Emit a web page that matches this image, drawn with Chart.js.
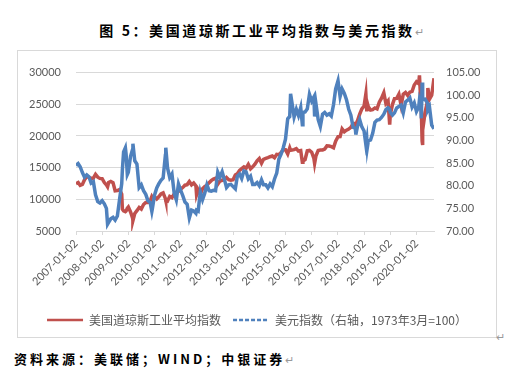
<!DOCTYPE html>
<html>
<head>
<meta charset="utf-8">
<script src="https://cdn.jsdelivr.net/npm/chart.js@4.4.1/dist/chart.umd.min.js"></script>
<style>
  body { margin: 0; background: #fff; width: 523px; height: 384px; position: relative; overflow: hidden;
         font-family: "Noto Sans CJK SC", sans-serif; }
  #title { position: absolute; left: 0; top: 20px; width: 523px; text-align: center; font-size: 14px;
           font-weight: bold; letter-spacing: 2.6px; line-height: 20px; color: #000; }
  #box { position: absolute; left: 17px; top: 50px; width: 478px; height: 286px; border: 1px solid #d9d9d9; }
  #src { position: absolute; left: 14px; top: 350px; font-size: 13px; font-weight: bold; letter-spacing: 3px;
         line-height: 18px; color: #000; }
  .mark { color: #999; font-weight: normal; letter-spacing: 0; font-size: 11px; }
  #boxmark { position: absolute; left: 496px; top: 328px; }
</style>
</head>
<body>
<div id="title">图 5：美国道琼斯工业平均指数与美元指数<span class="mark">↵</span></div>
<div id="box"><canvas id="chart" width="478" height="286"></canvas></div>
<span id="boxmark" class="mark">↵</span>
<div id="src">资料来源：美联储；WIND；中银证券<span class="mark">↵</span></div>
<script>
// 日期（月度 + 若干极值点）
const dates = [
  '2007-01-02','2007-02-01','2007-03-01','2007-04-01','2007-05-01','2007-06-01','2007-07-01','2007-08-01','2007-09-01','2007-10-01','2007-11-01','2007-12-01',
  '2008-01-01','2008-02-01','2008-03-01','2008-03-17','2008-04-01','2008-05-01','2008-06-01','2008-07-01','2008-08-01','2008-09-01','2008-10-01','2008-10-10','2008-10-27','2008-11-21','2008-12-01','2008-12-18',
  '2009-01-01','2009-02-01','2009-03-01','2009-03-06','2009-04-01','2009-05-01','2009-06-01','2009-07-01','2009-08-01','2009-09-01','2009-10-01','2009-11-01','2009-11-25','2009-12-01',
  '2010-01-01','2010-02-01','2010-03-01','2010-04-01','2010-05-01','2010-06-01','2010-06-07','2010-07-01','2010-08-01','2010-09-01','2010-10-01','2010-11-01','2010-12-01',
  '2011-01-01','2011-02-01','2011-03-01','2011-04-01','2011-05-01','2011-06-01','2011-07-01','2011-08-01','2011-08-10','2011-09-01','2011-10-01','2011-11-01','2011-12-01',
  '2012-01-01','2012-02-01','2012-03-01','2012-04-01','2012-05-01','2012-06-01','2012-07-01','2012-08-01','2012-09-01','2012-10-01','2012-11-01','2012-12-01',
  '2013-01-01','2013-02-01','2013-03-01','2013-04-01','2013-05-01','2013-06-01','2013-07-01','2013-08-01','2013-09-01','2013-10-01','2013-11-01','2013-12-01',
  '2014-01-01','2014-02-01','2014-03-01','2014-04-01','2014-05-01','2014-06-01','2014-07-01','2014-08-01','2014-09-01','2014-10-01','2014-11-01','2014-12-01',
  '2015-01-01','2015-02-01','2015-03-01','2015-03-13','2015-04-01','2015-05-01','2015-06-01','2015-07-01','2015-08-01','2015-08-24','2015-09-01','2015-10-01','2015-11-01','2015-12-01',
  '2016-01-01','2016-02-01','2016-02-11','2016-03-01','2016-04-01','2016-05-01','2016-06-01','2016-07-01','2016-08-01','2016-09-01','2016-10-01','2016-11-01','2016-12-01',
  '2017-01-03','2017-02-01','2017-03-01','2017-04-01','2017-05-01','2017-06-01','2017-07-01','2017-08-01','2017-09-01','2017-09-08','2017-10-01','2017-11-01','2017-12-01',
  '2018-01-01','2018-01-26','2018-02-08','2018-02-15','2018-03-01','2018-04-01','2018-05-01','2018-06-01','2018-07-01','2018-08-01','2018-09-01','2018-10-03','2018-11-01','2018-12-01','2018-12-24',
  '2019-01-01','2019-02-01','2019-03-01','2019-04-01','2019-05-01','2019-06-01','2019-07-01','2019-08-01','2019-09-01','2019-10-01','2019-11-01','2019-12-01',
  '2020-01-01','2020-02-01','2020-02-12','2020-03-01','2020-03-09','2020-03-20','2020-03-23','2020-04-01','2020-05-01','2020-06-01','2020-06-08','2020-07-01','2020-08-01','2020-09-02'
];

// 美国道琼斯工业平均指数（左轴）
const djia = [
  12470, 12650, 12200, 12350, 13100, 13600, 13450, 13300, 13350, 13950, 13500, 13300,
  13260, 12650, 12270, 11970, 12650, 12820, 12640, 11350, 11380, 11540, 10830, 8450, 8180, 8050, 8150, 8600,
  8780, 8000, 7060, 6630, 7760, 8210, 8720, 8450, 9170, 9500, 9510, 9710, 10460, 10350,
  10430, 10070, 10400, 10860, 11010, 10140, 9820, 9730, 10470, 10270, 10830, 11120, 11250,
  11580, 11890, 12230, 12320, 12810, 12290, 12580, 12130, 10720, 11490, 10800, 11660, 12020,
  12220, 12630, 12950, 13210, 13340, 12390, 12880, 13010, 13090, 13440, 13100, 13020,
  13100, 13860, 14050, 14570, 14840, 15120, 14910, 15500, 14810, 15130, 15550, 16090,
  16440, 15700, 16320, 16460, 16580, 16720, 16830, 16560, 17100, 17040, 17390, 17830,
  17820, 17160, 18130, 17750, 17780, 17840, 18010, 17620, 17690, 15870, 16060, 16280, 17660, 17720,
  17430, 16450, 15660, 16870, 17690, 17770, 17790, 17930, 18430, 18400, 18310, 18140, 19190,
  19880, 19890, 21110, 20660, 20910, 21080, 21350, 21960, 21990, 21800, 22410, 23440, 24270,
  24720, 26620, 23860, 25200, 24610, 24100, 24160, 24420, 24270, 25330, 25960, 26830, 25120, 25540, 21790,
  23330, 24990, 25900, 25930, 26590, 24820, 26600, 26860, 26400, 26920, 27050, 28050,
  28540, 28260, 29550, 25410, 23850, 19170, 18590, 20940, 23720, 25380, 27570, 25810, 26430, 29100
];

// 美元指数（右轴，1973年3月=100）
const dxy = [
  84.5, 84.9, 84.2, 82.9, 81.9, 82.4, 82.0, 80.6, 80.9, 78.0, 76.5, 76.2,
  76.7, 76.0, 75.0, 71.5, 71.9, 72.7, 73.0, 72.4, 73.3, 77.0, 80.5, 83.5, 87.5, 88.4, 87.0, 82.5,
  83.0, 86.5, 88.0, 89.3, 85.5, 84.8, 79.6, 80.2, 78.9, 78.1, 76.7, 76.3, 74.3, 74.8,
  77.9, 79.5, 80.4, 81.2, 81.7, 86.7, 88.4, 84.0, 81.8, 82.6, 78.5, 76.9, 80.4,
  79.0, 77.7, 76.4, 75.9, 72.9, 74.6, 74.4, 73.9, 74.6, 74.4, 78.6, 76.9, 78.3,
  80.2, 78.9, 78.8, 79.0, 78.9, 83.0, 81.9, 83.1, 81.4, 79.6, 80.2, 80.3,
  79.8, 79.3, 82.1, 82.6, 81.6, 83.3, 83.1, 81.5, 82.1, 80.3, 80.3, 80.7,
  80.0, 81.3, 80.2, 80.2, 79.5, 80.4, 79.8, 81.5, 82.8, 85.9, 87.0, 88.4,
  90.3, 94.8, 95.3, 100.3, 98.4, 95.2, 96.9, 95.5, 97.3, 93.5, 96.2, 96.3, 97.0, 100.2,
  98.7, 99.6, 95.3, 98.1, 94.6, 93.1, 95.8, 96.2, 95.6, 95.9, 95.4, 97.9, 101.4,
  103.2, 99.7, 101.4, 100.4, 99.0, 96.9, 95.6, 92.9, 92.7, 91.3, 93.1, 94.6, 93.0,
  92.1, 89.1, 90.3, 88.4, 89.9, 90.1, 91.6, 94.0, 94.5, 94.6, 95.1, 95.8, 96.8, 97.2, 96.9,
  96.2, 95.6, 96.1, 97.2, 97.5, 97.8, 96.1, 98.5, 98.9, 99.4, 97.4, 98.3,
  96.4, 97.4, 99.0, 98.1, 94.9, 102.8, 102.5, 99.0, 99.1, 98.3, 96.7, 97.4, 93.4, 92.6
];

const xTickLabels = ['2007-01-02','2008-01-02','2009-01-02','2010-01-02','2011-01-02','2012-01-02','2013-01-02',
  '2014-01-02','2015-01-02','2016-01-02','2017-01-02','2018-01-02','2019-01-02','2020-01-02'];

const seriesNames = ['美国道琼斯工业平均指数', '美元指数（右轴，1973年3月=100）'];
const seriesColors = ['#C0504D', '#4F81BD'];

// 日期 -> 年份小数，用作线性横轴
function toX(s) {
    const [y, m, d] = s.split('-').map(Number);
    const t0 = Date.UTC(y, 0, 1), t1 = Date.UTC(y + 1, 0, 1);
    return y + (Date.UTC(y, m - 1, d) - t0) / (t1 - t0);
}

const tickFont = { family: 'Lato, "Liberation Sans", sans-serif', size: 11 };

new Chart(document.getElementById('chart').getContext('2d'), {
    type: 'line',
    data: {
        datasets: [{
            label: seriesNames[0],
            data: dates.map((d, i) => ({ x: toX(d), y: djia[i] })),
            borderColor: seriesColors[0],
            borderWidth: 3.5,
            pointRadius: 0,
            yAxisID: 'y',
            order: 2
        }, {
            label: seriesNames[1],
            data: dates.map((d, i) => ({ x: toX(d), y: dxy[i] })),
            borderColor: seriesColors[1],
            borderWidth: 3.5,
            pointRadius: 0,
            yAxisID: 'y1',
            order: 1
        }]
    },
    options: {
        responsive: false,
        animation: false,
        devicePixelRatio: 1,
        layout: { padding: { top: 13, left: 0, right: 0, bottom: 1 } },
        scales: {
            x: {
                type: 'linear',
                min: toX(dates[0]),
                max: toX(dates[dates.length - 1]),
                afterBuildTicks: scale => { scale.ticks = xTickLabels.map(l => ({ value: toX(l) })); },
                afterFit: scale => { scale.height = 71; },
                ticks: {
                    autoSkip: false,
                    maxRotation: 45,
                    minRotation: 45,
                    padding: 2,
                    color: '#595959',
                    font: tickFont,
                    callback: (v, i) => xTickLabels[i]
                },
                grid: { drawOnChartArea: false, drawTicks: true, tickLength: 4, color: '#d9d9d9' },
                border: { display: true, color: '#d9d9d9' }
            },
            y: {
                position: 'left',
                min: 5000,
                max: 30000,
                afterFit: scale => { scale.width = 58; },
                ticks: { stepSize: 5000, padding: 15, color: '#595959', font: tickFont, callback: v => String(v) },
                grid: { color: '#d9d9d9', drawTicks: false },
                border: { display: false }
            },
            y1: {
                position: 'right',
                min: 70,
                max: 105,
                afterFit: scale => { scale.width = 62; },
                ticks: { stepSize: 5, padding: 12, color: '#595959', font: tickFont, callback: v => v.toFixed(2) },
                grid: { display: false, drawTicks: false },
                border: { display: false }
            }
        },
        plugins: {
            tooltip: { enabled: false },
            legend: {
                position: 'bottom',
                labels: {
                    usePointStyle: true,
                    pointStyleWidth: 36,
                    boxHeight: 12,
                    padding: 12,
                    color: '#595959',
                    font: { family: '"Noto Sans CJK SC", sans-serif', size: 12 },
                    generateLabels: chart => chart.data.datasets.map((ds, i) => ({
                        text: ds.label,
                        fillStyle: ds.borderColor,
                        strokeStyle: ds.borderColor,
                        lineWidth: 2.5,
                        lineDash: i === 1 ? [4, 2] : [],
                        pointStyle: 'line',
                        fontColor: '#595959',
                        hidden: false,
                        datasetIndex: i
                    }))
                }
            }
        }
    }
});
</script>
</body>
</html>
